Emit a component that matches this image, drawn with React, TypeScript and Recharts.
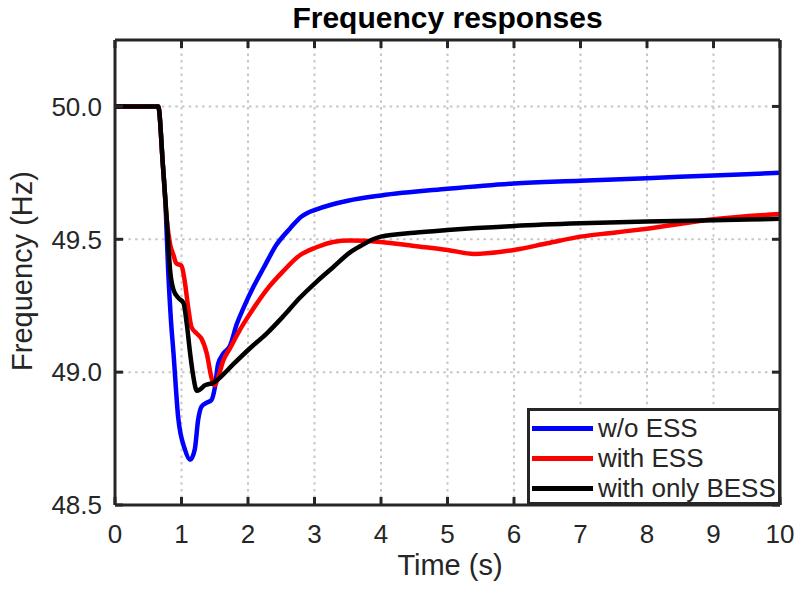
import { LineChart, Line, XAxis, YAxis, CartesianGrid, Legend } from 'recharts';

// time (s) and frequency (Hz) samples
const tWithout = [0, 0.65, 0.72, 0.76, 0.8, 0.84, 0.88, 0.95, 1.05, 1.13, 1.2, 1.25, 1.3, 1.38, 1.45, 1.5, 1.55, 1.63, 1.73, 1.83, 1.93, 2.08, 2.23, 2.43, 2.63, 2.8, 2.9, 3.0, 3.25, 3.5, 4, 5, 6, 7, 8, 9, 10];
const fWithout = [50, 50, 49.78, 49.63, 49.38, 49.2, 49.07, 48.83, 48.71, 48.67, 48.71, 48.82, 48.87, 48.885, 48.895, 48.94, 49.03, 49.07, 49.1, 49.18, 49.24, 49.32, 49.39, 49.48, 49.54, 49.585, 49.6, 49.61, 49.63, 49.645, 49.665, 49.69, 49.71, 49.72, 49.73, 49.74, 49.75];

const tWith = [0, 0.65, 0.72, 0.78, 0.83, 0.88, 0.92, 1.0, 1.05, 1.1, 1.15, 1.23, 1.3, 1.38, 1.45, 1.5, 1.55, 1.63, 1.73, 1.88, 2.03, 2.28, 2.53, 2.78, 3.03, 3.28, 3.53, 4, 4.5, 5, 5.4, 6, 6.5, 7, 7.5, 8, 9, 10];
const fWith = [50, 50, 49.78, 49.57, 49.48, 49.44, 49.41, 49.4, 49.34, 49.245, 49.17, 49.145, 49.126, 49.07, 48.98, 48.95, 48.98, 49.045, 49.09, 49.16, 49.22, 49.31, 49.38, 49.44, 49.47, 49.49, 49.495, 49.49, 49.475, 49.46, 49.445, 49.46, 49.485, 49.51, 49.525, 49.54, 49.575, 49.595];

const tBess = [0, 0.65, 0.72, 0.78, 0.83, 0.88, 0.95, 1.03, 1.08, 1.13, 1.18, 1.23, 1.28, 1.35, 1.48, 1.58, 1.78, 2.03, 2.28, 2.53, 2.78, 3.03, 3.28, 3.53, 3.73, 3.88, 4, 4.5, 5, 6, 7, 8, 9, 10];
const fBess = [50, 50, 49.78, 49.57, 49.38, 49.31, 49.28, 49.26, 49.18, 49.07, 48.98, 48.93, 48.935, 48.95, 48.96, 48.98, 49.03, 49.09, 49.145, 49.21, 49.28, 49.34, 49.395, 49.45, 49.48, 49.5, 49.51, 49.525, 49.535, 49.55, 49.56, 49.567, 49.572, 49.577];

const xTicks = [0, 1, 2, 3, 4, 5, 6, 7, 8, 9, 10];
const yTicks = [48.5, 49, 49.5, 50];

const seriesNames = ['w/o ESS', 'with ESS', 'with only BESS'];
const seriesColors = ['#0000ff', '#ff0000', '#000000'];

const toRows = (t: number[], f: number[]) => t.map((time, i) => ({ time, freq: f[i] }));

const FONT = '"Liberation Sans", Arial, sans-serif';
const INK = '#262626';

const LegendBox = () => (
  <div
    style={{
      boxSizing: 'border-box',
      width: 254,
      height: 97,
      border: `3px solid ${INK}`,
      background: '#fff',
      paddingTop: 2,
      fontFamily: FONT,
      fontSize: 26,
      color: INK,
    }}
  >
    {seriesNames.map((name, i) => (
      <div key={name} style={{ display: 'flex', alignItems: 'center', height: 30 }}>
        <div style={{ width: 61, height: 5, background: seriesColors[i], marginLeft: 2, marginRight: 5 }} />
        <span style={{ lineHeight: '30px' }}>{name}</span>
      </div>
    ))}
  </div>
);

const App = () => {
  const axisLine = { stroke: INK, strokeWidth: 3 };
  const tickLine = { stroke: INK, strokeWidth: 3 };
  const tickStyle = { fill: INK, fontSize: 26, fontFamily: FONT };
  const series = [toRows(tWithout, fWithout), toRows(tWith, fWith), toRows(tBess, fBess)];

  return (
    <div style={{ position: 'absolute', left: 0, top: 0, width: 794, height: 590, background: '#fff' }}>
      <LineChart width={794} height={590} margin={{ top: 10, right: 0, left: 0, bottom: 0 }}>
        <CartesianGrid stroke="#c6c6c6" strokeWidth={2} strokeDasharray="2.5 4.2" />
        <XAxis
          dataKey="time"
          type="number"
          domain={[0, 10]}
          ticks={xTicks}
          height={85}
          axisLine={axisLine}
          tickLine={tickLine}
          tickSize={-8}
          tickMargin={28}
          tick={tickStyle}
          allowDuplicatedCategory={false}
        />
        <XAxis
          xAxisId="top"
          orientation="top"
          dataKey="time"
          type="number"
          domain={[0, 10]}
          ticks={xTicks}
          height={30}
          axisLine={axisLine}
          tickLine={tickLine}
          tickSize={-8}
          tickFormatter={() => ''}
          allowDuplicatedCategory={false}
        />
        <YAxis
          type="number"
          domain={[48.5, 50.25]}
          ticks={yTicks}
          width={115}
          axisLine={axisLine}
          tickLine={tickLine}
          tickSize={-8}
          tickMargin={21}
          tick={tickStyle}
          tickFormatter={(v: number) => v.toFixed(1)}
        />
        <YAxis
          yAxisId="right"
          orientation="right"
          type="number"
          domain={[48.5, 50.25]}
          ticks={yTicks}
          width={14}
          axisLine={axisLine}
          tickLine={tickLine}
          tickSize={-8}
          tickFormatter={() => ''}
        />
        {series.map((rows, i) => (
          <Line
            key={seriesNames[i]}
            data={rows}
            dataKey="freq"
            name={seriesNames[i]}
            type="monotone"
            stroke={seriesColors[i]}
            strokeWidth={4.5}
            dot={false}
            isAnimationActive={false}
          />
        ))}
        {/* invisible copy so the top/right frame axes get a scale and draw their inward ticks */}
        <Line
          data={series[0]}
          dataKey="freq"
          xAxisId="top"
          yAxisId="right"
          stroke="none"
          strokeWidth={0}
          dot={false}
          activeDot={false}
          legendType="none"
          isAnimationActive={false}
        />
        <Legend
          layout="vertical"
          align="center"
          verticalAlign="middle"
          wrapperStyle={{ left: 527, top: 408, width: 254, height: 97 }}
          content={() => <LegendBox />}
        />
      </LineChart>
      <svg width={794} height={590} style={{ position: 'absolute', left: 0, top: 0, pointerEvents: 'none' }}>
        <text x={447.5} y={28} textAnchor="middle" fontFamily={FONT} fontWeight="bold" fontSize={30} fill="#000">
          Frequency responses
        </text>
        <text x={450} y={575} textAnchor="middle" fontFamily={FONT} fontSize={29} fill={INK}>
          Time (s)
        </text>
        <text
          x={32}
          y={271}
          textAnchor="middle"
          fontFamily={FONT}
          fontSize={29}
          fill={INK}
          transform="rotate(-90, 32, 271)"
        >
          Frequency (Hz)
        </text>
      </svg>
    </div>
  );
};

export default App;
